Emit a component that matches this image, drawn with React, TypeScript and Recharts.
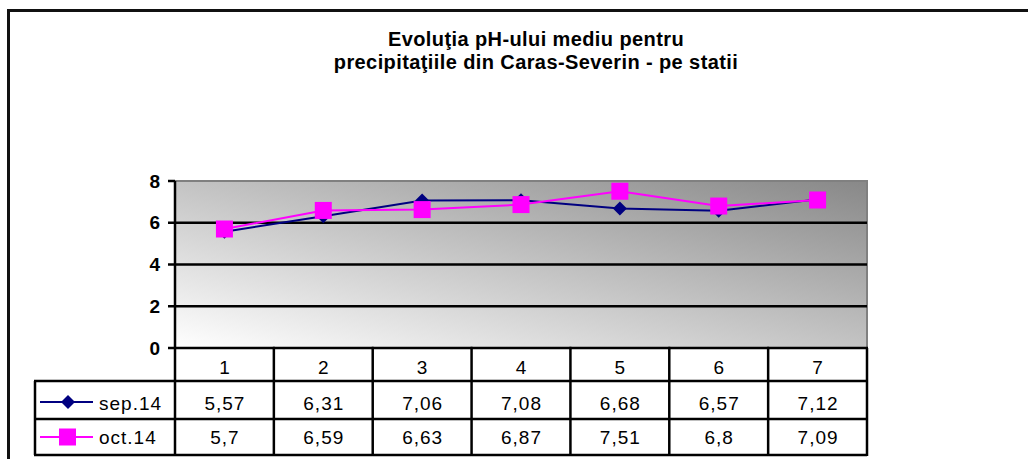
import { LineChart, Line, XAxis, YAxis, ReferenceArea, ReferenceLine } from 'recharts';

const categories = ['1', '2', '3', '4', '5', '6', '7'];
const sep14 = [5.57, 6.31, 7.06, 7.08, 6.68, 6.57, 7.12];
const oct14 = [5.7, 6.59, 6.63, 6.87, 7.51, 6.8, 7.09];
const seriesNames = ['sep.14', 'oct.14'];
const yTicks = [0, 2, 4, 6, 8];
const gridValues = [2, 4, 6];

const data = categories.map((c, i) => ({ cat: c, sep: sep14[i], oct: oct14[i] }));

const W = 1028;
const H = 459;
const FONT = '"Liberation Sans", Arial, sans-serif';
const NAVY = '#000080';
const MAGENTA = '#FF00FF';
const rowHeights = [33, 38, 36];
const legendWidth = 140;
const margin = { top: 181, right: 161, bottom: 4, left: 0 };
const yAxisWidth = 175;

const fmt = (v: number) => String(v).replace('.', ',');

function diamondPath(cx: number, cy: number, r: number) {
  return `M${cx},${cy - r}L${cx + r},${cy}L${cx},${cy + r}L${cx - r},${cy}Z`;
}

const DiamondDot = (p: any) => {
  const { cx, cy, index } = p;
  if (cx == null || cy == null) return <g key={`d-${index}`} />;
  return <path key={`d-${index}`} d={diamondPath(cx, cy, 7)} fill={NAVY} />;
};

const SquareDot = (p: any) => {
  const { cx, cy, index } = p;
  if (cx == null || cy == null) return <g key={`s-${index}`} />;
  return <rect key={`s-${index}`} x={cx - 8.5} y={cy - 8.5} width={17} height={17} fill={MAGENTA} />;
};

function TableTick(props: any) {
  const { x, y, payload } = props;
  const i: number = payload.index;
  const half: number = payload.offset || (W - yAxisWidth - margin.right) / categories.length / 2;
  const left = x - half;
  const right = x + half;
  const r1 = y + rowHeights[0];
  const r2 = r1 + rowHeights[1];
  const r3 = r2 + rowHeights[2];
  const txt = {
    fontFamily: FONT,
    fontSize: 19,
    letterSpacing: 1,
    fill: '#000',
    textAnchor: 'middle' as const,
    dominantBaseline: 'central' as const,
  };
  const ln = { stroke: '#000', strokeWidth: 2.5 };
  const lx = left - legendWidth;
  return (
    <g>
      <text x={x + 0.5} y={y + 19} {...txt}>{categories[i]}</text>
      <text x={x + 0.5} y={r1 + 22} {...txt}>{fmt(sep14[i])}</text>
      <text x={x + 0.5} y={r2 + 18} {...txt}>{fmt(oct14[i])}</text>
      <line x1={left - 1} x2={right + 1} y1={y} y2={y} {...ln} />
      <line x1={left} x2={right} y1={r1} y2={r1} {...ln} />
      <line x1={left} x2={right} y1={r2} y2={r2} {...ln} />
      <line x1={left} x2={right} y1={r3} y2={r3} {...ln} />
      <line x1={right} x2={right} y1={y} y2={r3 + 1} {...ln} />
      {i === 0 && (
        <g>
          <line x1={left} x2={left} y1={y} y2={r3 + 1} {...ln} />
          <line x1={lx - 1} x2={left} y1={r1} y2={r1} {...ln} />
          <line x1={lx - 1} x2={left} y1={r2} y2={r2} {...ln} />
          <line x1={lx - 1} x2={left} y1={r3} y2={r3} {...ln} />
          <line x1={lx} x2={lx} y1={r1} y2={r3} {...ln} />
          <line x1={lx + 5} x2={lx + 58} y1={r1 + 21} y2={r1 + 21} stroke={NAVY} strokeWidth={2} />
          <path d={diamondPath(lx + 33, r1 + 21, 7)} fill={NAVY} />
          <text x={lx + 64} y={r1 + 22} {...txt} textAnchor="start">{seriesNames[0]}</text>
          <line x1={lx + 5} x2={lx + 58} y1={r2 + 18} y2={r2 + 18} stroke={MAGENTA} strokeWidth={2} />
          <rect x={lx + 24} y={r2 + 9.5} width={17} height={17} fill={MAGENTA} />
          <text x={lx + 64} y={r2 + 18} {...txt} textAnchor="start">{seriesNames[1]}</text>
        </g>
      )}
    </g>
  );
}

export default function App() {
  return (
    <div style={{ position: 'absolute', left: 0, top: 0, width: W, height: H, overflow: 'hidden', background: '#fff' }}>
      <div
        style={{
          position: 'absolute',
          left: 7,
          top: 9,
          width: W + 20,
          height: H + 20,
          borderLeft: '3px solid #111',
          borderTop: '3px solid #111',
        }}
      />
      <div
        style={{
          position: 'absolute',
          left: 236,
          top: 28,
          width: 600,
          textAlign: 'center',
          fontFamily: FONT,
          fontWeight: 'bold',
          fontSize: 20,
          letterSpacing: 0.4,
          lineHeight: '23px',
        }}
      >
        Evoluţia pH-ului mediu pentru
        <br />
        precipitaţiile din Caras-Severin - pe statii
      </div>
      <div style={{ position: 'absolute', left: 0, top: 0 }}>
        <LineChart width={W} height={H} data={data} margin={margin}>
          <defs>
            <linearGradient id="plotGrad" x1="0" y1="1" x2="1" y2="0">
              <stop offset="0%" stopColor="#ffffff" />
              <stop offset="100%" stopColor="#888888" />
            </linearGradient>
          </defs>
          <ReferenceArea y1={0} y2={8} fill="url(#plotGrad)" fillOpacity={1} stroke="#808080" strokeWidth={2} />
          {gridValues.map((v) => (
            <ReferenceLine key={v} y={v} stroke="#000" strokeWidth={2.5} />
          ))}
          <XAxis
            dataKey="cat"
            scale="band"
            height={rowHeights[0] + rowHeights[1] + rowHeights[2]}
            axisLine={false}
            tickLine={false}
            tickSize={0}
            tickMargin={0}
            interval={0}
            tick={<TableTick />}
          />
          <YAxis
            width={yAxisWidth}
            domain={[0, 8]}
            ticks={yTicks}
            interval={0}
            axisLine={{ stroke: '#000', strokeWidth: 2.5 }}
            tickLine={{ stroke: '#000', strokeWidth: 2.5 }}
            tickSize={7}
            tickMargin={8}
            tick={{ fill: '#000', fontFamily: FONT, fontWeight: 'bold', fontSize: 19 }}
          />
          <Line
            dataKey="sep"
            name={seriesNames[0]}
            type="linear"
            stroke={NAVY}
            strokeWidth={2}
            dot={DiamondDot}
            activeDot={false}
            isAnimationActive={false}
          />
          <Line
            dataKey="oct"
            name={seriesNames[1]}
            type="linear"
            stroke={MAGENTA}
            strokeWidth={2}
            dot={SquareDot}
            activeDot={false}
            isAnimationActive={false}
          />
        </LineChart>
      </div>
    </div>
  );
}
